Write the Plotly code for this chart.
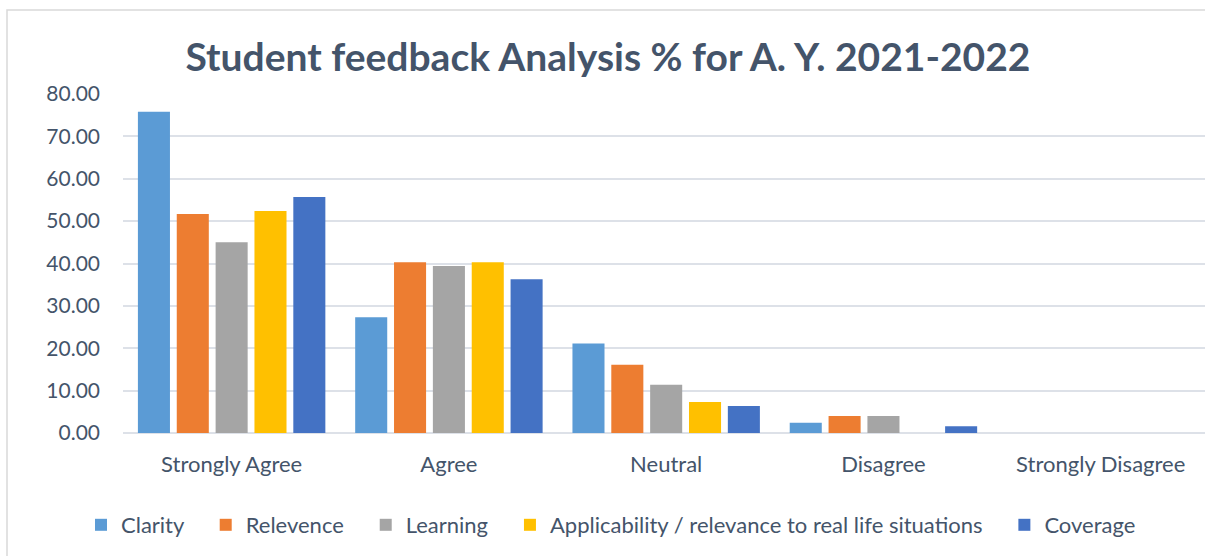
import plotly.graph_objects as go

categories = ["Strongly Agree", "Agree", "Neutral", "Disagree", "Strongly Disagree"]
series_names = ["Clarity", "Relevence", "Learning",
                "Applicability / relevance to real life situations", "Coverage"]
clarity = [75.8, 27.3, 21.1, 2.4, 0]
relevence = [51.7, 40.3, 16.1, 4.0, 0]
learning = [45.0, 39.4, 11.4, 4.0, 0]
applicability = [52.4, 40.3, 7.3, 0, 0]
coverage = [55.7, 36.3, 6.4, 1.6, 0]
colors = ["#5B9BD5", "#ED7D31", "#A5A5A5", "#FFC000", "#4472C4"]
y_ticks = [0, 10, 20, 30, 40, 50, 60, 70, 80]

W, H = 1205, 556
L, R, T, B = 123, 0, 94, 123
pw, ph = W - L - R, H - T - B
text_color = "#44546A"
font = "Lato"

fig = go.Figure()
all_vals = [clarity, relevence, learning, applicability, coverage]
for i, (name, vals, c) in enumerate(zip(series_names, all_vals, colors)):
    pad = "" if i == len(series_names) - 1 else "\u00a0" * 3
    fig.add_trace(go.Bar(x=categories, y=vals, name=name + pad,
                         marker=dict(color=c, line=dict(width=0))))

def px_x(p):
    return (p - L) / pw

def px_y(p):
    return (H - B - p) / ph

fig.add_shape(type="rect", xref="paper", yref="paper",
              x0=px_x(7), x1=px_x(1300), y0=px_y(10), y1=px_y(600),
              line=dict(color="#D9D9D9", width=1.5), fillcolor="rgba(0,0,0,0)",
              layer="below")

fig.update_layout(
    width=W, height=H,
    margin=dict(l=L, r=R, t=T, b=B, pad=0, autoexpand=False),
    paper_bgcolor="white", plot_bgcolor="white",
    barmode="group", bargap=0.106, bargroupgap=0.175,
    title=dict(text="<b>Student feedback Analysis % for A. Y. 2021-2022</b>",
               x=608 / W, xref="container", xanchor="center",
               y=1 - 57 / H, yref="container", yanchor="middle",
               font=dict(family=font, size=39, color=text_color)),
    font=dict(family=font, color=text_color),
    xaxis=dict(range=[-0.5, 4.48], showgrid=False, showline=False,
               ticks="", tickfont=dict(size=22, color=text_color),
               ticklabelstandoff=16, zeroline=False),
    yaxis=dict(range=[0, 80], tickvals=y_ticks, tickformat=".2f",
               showgrid=True, gridcolor="#DDE1E8", gridwidth=1.5,
               zeroline=True, zerolinecolor="#DDE1E8", zerolinewidth=1.5,
               showline=False, ticks="", ticklabelstandoff=22,
               tickfont=dict(size=21, color=text_color)),
    legend=dict(orientation="h", xref="container", x=611 / W, xanchor="center",
                yref="container", y=1 - 525 / H, yanchor="middle",
                font=dict(size=22, color=text_color),
                itemwidth=30, traceorder="normal"),
    showlegend=True,
)

fig.write_html("out.html", config={"displayModeBar": False},
               post_script="document.body.style.margin='0';document.body.style.overflow='hidden';")
